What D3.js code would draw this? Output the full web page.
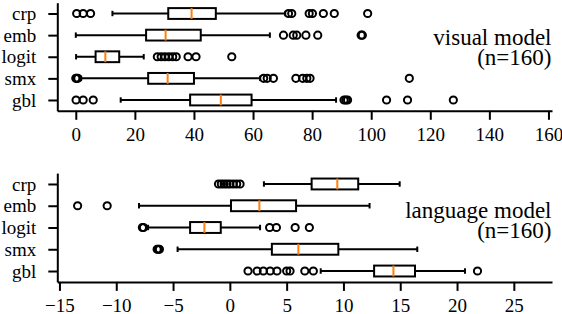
<!DOCTYPE html>
<html>
<head>
<meta charset="utf-8">
<script src="https://cdn.jsdelivr.net/npm/d3@7"></script>
<style>
  html, body { margin: 0; padding: 0; background: #fff; }
  svg { display: block; }
  text { font-family: "Liberation Serif", "DejaVu Serif", serif; fill: #000; }
</style>
</head>
<body>
<svg id="chart" width="562" height="314"></svg>
<script>
// ---------- data ----------
const categories = ["crp", "emb", "logit", "smx", "gbl"];

// visual model (n=160)
const visWhiskerLow  = [12.4, 0.0, 0.1, 1.8, 15.2];
const visQ1          = [31.3, 23.8, 6.7, 24.5, 38.7];
const visMedian      = [39.2, 30.4, 10.0, 31.1, 49.1];
const visQ3          = [47.4, 42.3, 14.7, 40.0, 59.5];
const visWhiskerHigh = [70.9, 65.7, 23.0, 62.4, 88.1];
const visFliers = [
  [0.3, 2.5, 5.0, 72.0, 73.1, 79.0, 80.1, 83.8, 87.5, 98.8],
  [70.3, 73.6, 74.8, 77.9, 81.9, 96.6, 97.0],
  [27.6, 28.9, 30.2, 31.5, 32.8, 34.0, 38.0, 40.7, 52.8],
  [0.0, 0.3, 0.7, 63.6, 64.8, 66.9, 74.5, 76.8, 78.2, 79.3, 112.9],
  [0.1, 2.5, 5.9, 90.8, 91.4, 92.0, 105.2, 112.3, 127.8]
];
const visTicks = [0, 20, 40, 60, 80, 100, 120, 140, 160];

// language model (n=160)
const lngWhiskerLow  = [3.0, -8.0, -7.2, -4.6, 8.0];
const lngQ1          = [7.2, 0.1, -3.5, 3.7, 12.7];
const lngMedian      = [9.46, 2.6, -2.24, 6.03, 14.4];
const lngQ3          = [11.3, 5.83, -0.8, 9.55, 16.3];
const lngWhiskerHigh = [14.95, 12.3, 2.66, 16.5, 20.7];
const lngFliers = [
  [-1.0, -0.75, -0.5, -0.25, 0.0, 0.3, 0.6, 0.9],
  [-13.4, -10.8],
  [-7.7, -7.6, 3.5, 4.1, 5.75, 7.0],
  [-6.4, -6.3, -6.2],
  [1.6, 2.4, 2.95, 3.55, 4.15, 5.0, 5.3, 6.6, 7.35, 21.8]
];
const lngTicks = [-15, -10, -5, 0, 5, 10, 15, 20, 25];

const titles = [["visual model", "(n=160)"], ["language model", "(n=160)"]];

// ---------- drawing ----------
const svg = d3.select("#chart");
const ORANGE = "#ff7f0e";
const LW = 2;

function panel(cfg) {
  const g = svg.append("g");
  const x = d3.scaleLinear().domain(cfg.xDomain).range([cfg.left, cfg.right]);
  const y = d3.scaleLinear().domain([0.5, 5.5]).range([cfg.bottom, cfg.top]);
  // positions: gbl=1 ... crp=5
  const pos = categories.map((c, i) => categories.length - i);
  const boxH = y(0) - y(0.5);
  const capH = y(0) - y(0.25);

  // axes
  const xAxis = d3.axisBottom(x).tickValues(cfg.ticks).tickSize(9).tickSizeOuter(0).tickPadding(8);
  const gx = g.append("g").attr("transform", `translate(0,${cfg.bottom})`).call(xAxis);
  const yAxis = d3.axisLeft(y).tickValues(pos).tickFormat((d, i) => categories[i]).tickSize(9).tickSizeOuter(0).tickPadding(12);
  const gy = g.append("g").attr("transform", `translate(${cfg.left},0)`).call(yAxis);
  [gx, gy].forEach(a => {
    a.selectAll("path.domain").attr("stroke", "#000").attr("stroke-width", LW);
    a.selectAll(".tick line").attr("stroke", "#000").attr("stroke-width", LW);
    a.selectAll(".tick text").attr("font-size", 19).attr("font-family", "Liberation Serif, DejaVu Serif, serif").attr("fill", "#000");
  });

  // boxes
  categories.forEach((c, i) => {
    const yc = y(pos[i]);
    const bg = g.append("g");
    // whiskers
    bg.append("line").attr("x1", x(cfg.wLo[i])).attr("x2", x(cfg.q1[i])).attr("y1", yc).attr("y2", yc)
      .attr("stroke", "#000").attr("stroke-width", LW);
    bg.append("line").attr("x1", x(cfg.q3[i])).attr("x2", x(cfg.wHi[i])).attr("y1", yc).attr("y2", yc)
      .attr("stroke", "#000").attr("stroke-width", LW);
    // caps
    [cfg.wLo[i], cfg.wHi[i]].forEach(v => {
      bg.append("line").attr("x1", x(v)).attr("x2", x(v)).attr("y1", yc - capH / 2).attr("y2", yc + capH / 2)
        .attr("stroke", "#000").attr("stroke-width", LW);
    });
    // box
    bg.append("rect").attr("x", x(cfg.q1[i])).attr("y", yc - boxH / 2)
      .attr("width", x(cfg.q3[i]) - x(cfg.q1[i])).attr("height", boxH)
      .attr("fill", "none").attr("stroke", "#000").attr("stroke-width", LW);
    // median
    bg.append("line").attr("x1", x(cfg.med[i])).attr("x2", x(cfg.med[i])).attr("y1", yc - boxH / 2).attr("y2", yc + boxH / 2)
      .attr("stroke", ORANGE).attr("stroke-width", LW);
    // fliers
    bg.selectAll("circle").data(cfg.fliers[i]).join("circle")
      .attr("cx", d => x(d)).attr("cy", yc).attr("r", 3.6)
      .attr("fill", "none").attr("stroke", "#000").attr("stroke-width", LW);
  });

  // title text
  const t = g.append("text").attr("text-anchor", "end").attr("font-size", 23);
  t.append("tspan").attr("x", cfg.textX).attr("y", cfg.textY).text(cfg.title[0]);
  t.append("tspan").attr("x", cfg.textX).attr("y", cfg.textY + 20).text(cfg.title[1]);
}

panel({
  xDomain: [-6.26, 161.2], left: 57.3, right: 552, top: 2.7, bottom: 110.8,
  ticks: visTicks, wLo: visWhiskerLow, q1: visQ1, med: visMedian, q3: visQ3, wHi: visWhiskerHigh,
  fliers: visFliers, title: titles[0], textX: 551.5, textY: 45
});
panel({
  xDomain: [-15.19, 28.36], left: 57.3, right: 552, top: 173.1, bottom: 281.9,
  ticks: lngTicks, wLo: lngWhiskerLow, q1: lngQ1, med: lngMedian, q3: lngQ3, wHi: lngWhiskerHigh,
  fliers: lngFliers, title: titles[1], textX: 551.5, textY: 217.5
});
</script>
</body>
</html>
